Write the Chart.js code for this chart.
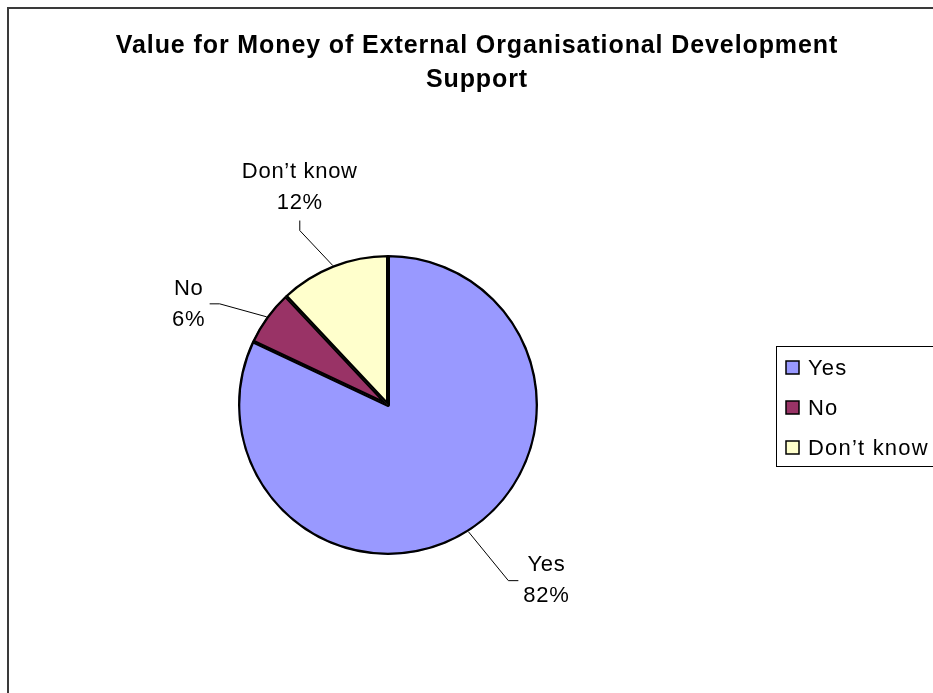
<!DOCTYPE html>
<html>
<head>
<meta charset="utf-8">
<script src="https://cdn.jsdelivr.net/npm/chart.js@4"></script>
<style>
  html, body { margin: 0; padding: 0; background: #fff; }
  #wrap { position: relative; width: 933px; height: 693px; }
</style>
</head>
<body>
<div id="wrap"><canvas id="valueChart" width="933" height="693"></canvas></div>
<script>
const categories = ['Yes', 'No', 'Don\u2019t know'];
const shares = [82, 6, 12];
const sliceColors = ['#9999ff', '#993366', '#ffffcc'];
const titleLines = ['Value for Money of External Organisational Development', 'Support'];

// leader line layout per slice: elbow offset from arc midpoint, end of tick, text centre
const leaderLayout = [
    { elbow: [40, 49], end: [50, 49], text: [78, 54] },
    { elbow: [-47, -13], end: [-57, -13], text: [-78, -7] },
    { elbow: [-33, -35], end: [-33, -45], text: [-33, -73] }
];

const FONT = "'Liberation Sans', Arial, sans-serif";

const decorations = {
    id: 'decorations',
    beforeDraw(chart) {
        const c = chart.ctx;
        c.save();
        // outer frame
        c.strokeStyle = '#3a3a3a';
        c.lineWidth = 2;
        c.beginPath();
        c.moveTo(8, 700);
        c.lineTo(8, 8);
        c.lineTo(940, 8);
        c.stroke();

        // title
        c.fillStyle = '#000';
        c.font = 'bold 25px ' + FONT;
        c.letterSpacing = '0.9px';
        c.textAlign = 'center';
        c.textBaseline = 'alphabetic';
        titleLines.forEach((t, i) => c.fillText(t, 477, 53 + i * 34));
        c.restore();
    },
    afterDraw(chart) {
        const c = chart.ctx;
        const meta = chart.getDatasetMeta(0);
        c.save();

        // data labels with leader lines
        c.font = '22px ' + FONT;
        c.letterSpacing = '0.7px';
        c.textAlign = 'center';
        c.textBaseline = 'alphabetic';
        meta.data.forEach((arc, i) => {
            const p = arc.getProps(['x', 'y', 'startAngle', 'endAngle', 'outerRadius'], true);
            const mid = (p.startAngle + p.endAngle) / 2;
            const ax = p.x + Math.cos(mid) * p.outerRadius;
            const ay = p.y + Math.sin(mid) * p.outerRadius;
            const L = leaderLayout[i];
            c.strokeStyle = '#000';
            c.lineWidth = 1;
            c.beginPath();
            c.moveTo(ax, ay);
            c.lineTo(ax + L.elbow[0], ay + L.elbow[1]);
            c.lineTo(ax + L.end[0], ay + L.end[1]);
            c.stroke();
            c.fillStyle = '#000';
            const tx = ax + L.text[0], ty = ay + L.text[1];
            c.fillText(categories[i], tx, ty - 15);
            c.fillText(shares[i] + '%', tx, ty + 16);
        });

        // legend box
        c.strokeStyle = '#000';
        c.lineWidth = 1;
        c.strokeRect(776.5, 346.5, 200, 120);
        c.textAlign = 'left';
        c.letterSpacing = '1.2px';
        categories.forEach((name, i) => {
            const y = 367 + i * 40;
            c.fillStyle = sliceColors[i];
            c.fillRect(786, y - 6, 13, 13);
            c.strokeStyle = '#000';
            c.lineWidth = 1.5;
            c.strokeRect(786, y - 6, 13, 13);
            c.fillStyle = '#000';
            c.fillText(name, 808, y + 8);
        });
        c.restore();
    }
};

new Chart(document.getElementById('valueChart'), {
    type: 'pie',
    data: {
        labels: categories,
        datasets: [{
            data: shares,
            backgroundColor: sliceColors,
            borderColor: '#000',
            borderWidth: 2,
            borderAlign: 'inner'
        }]
    },
    options: {
        responsive: false,
        animation: false,
        layout: {
            padding: { left: 238, right: 395, top: 255, bottom: 138 }
        },
        plugins: {
            legend: { display: false },
            tooltip: { enabled: false },
            title: { display: false }
        }
    },
    plugins: [decorations]
});
</script>
</body>
</html>
